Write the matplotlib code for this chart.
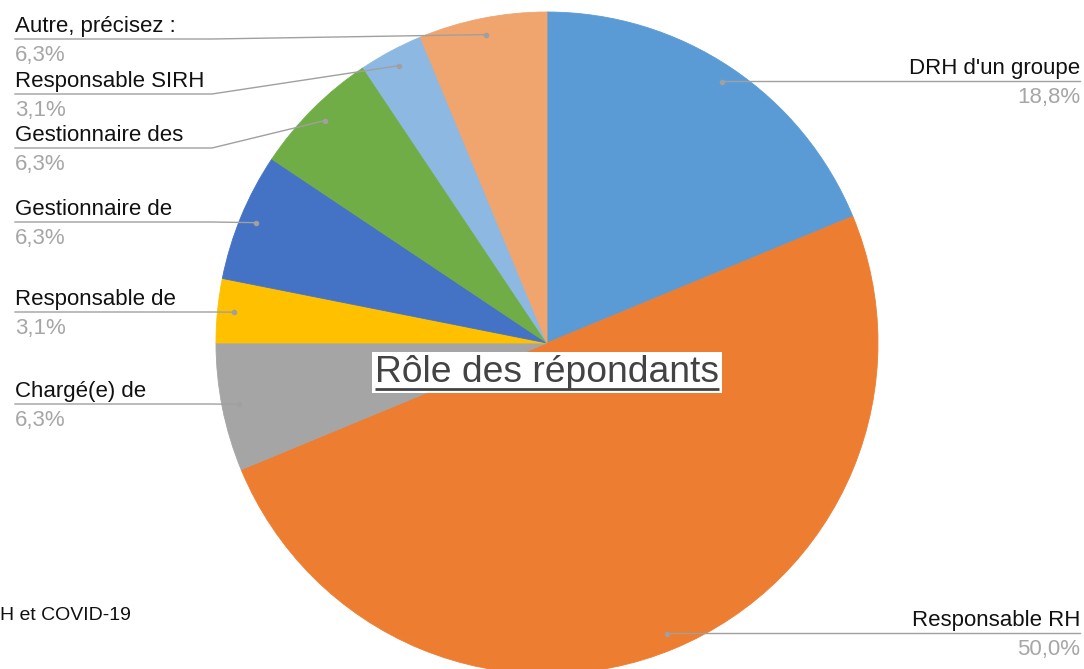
import matplotlib.pyplot as plt
import numpy as np

# Rôle des répondants
labels = ["DRH d'un groupe", "Responsable RH", "Chargé(e) de", "Responsable de",
          "Gestionnaire de", "Gestionnaire des", "Responsable SIRH", "Autre, précisez :"]
counts = [6, 16, 2, 1, 2, 2, 1, 2]
pct_labels = ["18,8%", "50,0%", "6,3%", "3,1%", "6,3%", "6,3%", "3,1%", "6,3%"]
colors = ['#5B9BD5', '#ED7D31', '#A5A5A5', '#FFC000', '#4472C4', '#70AD47',
          '#8DB8E2', '#F0A46E']

# label line heights (px) and side
label_y = [81, 633, 404, 312, 222, 148, 94, 39]
label_side = ['r', 'r', 'l', 'l', 'l', 'l', 'l', 'l']

if __name__ == "__main__":
    plt.rcParams['font.family'] = ['Liberation Sans', 'DejaVu Sans']
    fig = plt.figure(figsize=(10.84, 6.69), dpi=100)
    ax = fig.add_axes([0, 0, 1, 1])

    cx, cy, R = 547, 343, 331
    wedges, _ = ax.pie(counts, colors=colors, startangle=270, counterclock=True,
                       center=(cx, cy), radius=R, frame=True)
    for w, c in zip(wedges, colors):
        w.set_edgecolor(c)
        w.set_linewidth(0.6)
    ax.set_xlim(0, 1084)
    ax.set_ylim(669, 0)
    ax.set_aspect('equal')
    ax.axis('off')

    line_c = '#A0A0A0'
    for w, lab, pct, ly, side in zip(wedges, labels, pct_labels, label_y, label_side):
        a = np.deg2rad((w.theta1 + w.theta2) / 2)
        dx, dy = cx + 0.95 * R * np.cos(a), cy + 0.95 * R * np.sin(a)
        if side == 'r':
            ax.plot([dx, 1080], [ly, ly], color=line_c, lw=1, zorder=3)
            ax.text(1080, ly - 7, lab, ha='right', va='baseline', fontsize=16, color='#111111')
            ax.text(1080, ly + 22, pct, ha='right', va='baseline', fontsize=16, color='#A6A6A6')
        else:
            ax.plot([15, 212, dx], [ly, ly, dy], color=line_c, lw=1, zorder=3)
            ax.text(15, ly - 7, lab, ha='left', va='baseline', fontsize=16, color='#111111')
            ax.text(15, ly + 22, pct, ha='left', va='baseline', fontsize=16, color='#A6A6A6')
        ax.plot(dx, dy, 'o', ms=3, color=line_c, zorder=4)

    ax.text(0, 620, "H et COVID-19", ha='left', va='baseline', fontsize=14, color='#111111')

    t = ax.text(547, 382, "Rôle des répondants", ha='center', va='baseline',
                fontsize=26.8, color='#434343', zorder=5,
                bbox=dict(facecolor='white', edgecolor='none', boxstyle='square,pad=0.08'))
    fig.canvas.draw()
    bb = t.get_window_extent().transformed(ax.transData.inverted())
    ax.plot([min(bb.x0, bb.x1), max(bb.x0, bb.x1)], [389, 389], color='#434343', lw=2,
            zorder=6, solid_capstyle='butt')

    plt.savefig('out.png', dpi=100)
